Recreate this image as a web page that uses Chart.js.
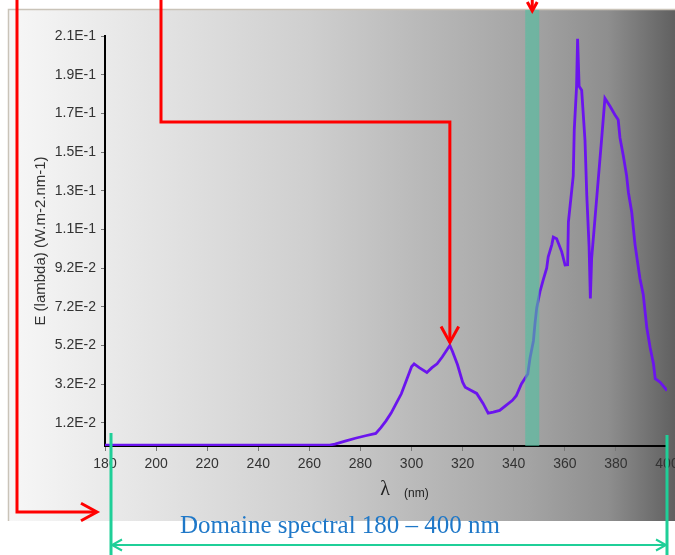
<!DOCTYPE html>
<html>
<head>
<meta charset="utf-8">
<script src="https://cdn.jsdelivr.net/npm/chart.js@4.4.0/dist/chart.umd.min.js"></script>
<style>
  html, body { margin: 0; padding: 0; background: #fff; }
  #spectre { display: block; }
</style>
</head>
<body>
<canvas id="spectre" width="675" height="555"></canvas>
<script>
// Spectre E(lambda), 180 - 400 nm
const wavelengths = [
  180, 200, 220, 240, 260, 268, 270, 274, 278, 282, 286, 288, 290, 292, 294, 296, 298,
  300, 301, 303, 306, 308, 310, 312, 314, 315, 316, 318, 320, 321, 323, 325.5, 328, 330,
  332, 334.5, 337, 339.5, 341, 343, 345.5, 346.4, 347.7, 348.3, 349, 350.3, 351.6, 352.9,
  353.5, 354.9, 355.5, 356.8, 358.8, 360.1, 361.1, 361.4, 363.3, 363.7, 364.6, 365, 365.6,
  366.6, 367.9, 368.6, 369.5, 370, 370.5, 371.8, 373.1, 374.4, 375.7, 377.7, 379.6, 380.9,
  381.6, 382.9, 384.2, 384.9, 386.2, 387.5, 389.4, 390.7, 392.1, 393.4, 394.7, 395.4, 397.3, 400
];
const irradiance = [
  0.0004, 0.0004, 0.0004, 0.0004, 0.0004, 0.0005, 0.001, 0.0025, 0.004, 0.0053, 0.0065, 0.0095,
  0.013, 0.017, 0.022, 0.027, 0.034,
  0.041, 0.0425, 0.0405, 0.038, 0.0405, 0.0425, 0.046, 0.05, 0.052, 0.049, 0.042, 0.033, 0.0304,
  0.029, 0.0272, 0.022, 0.017,
  0.0175, 0.0184, 0.021, 0.0236, 0.026, 0.0321, 0.0372, 0.0457, 0.0543, 0.063, 0.0714, 0.0799,
  0.0861, 0.0919,
  0.0978, 0.104, 0.108, 0.1072, 0.1004, 0.0936, 0.0937, 0.1158, 0.1397, 0.1636, 0.1858, 0.2106,
  0.186,
  0.184, 0.158, 0.1296, 0.103, 0.0763, 0.097, 0.1175, 0.138, 0.1585, 0.1798, 0.1757, 0.1713,
  0.1687,
  0.1593, 0.1501, 0.1397, 0.1311, 0.1209, 0.104, 0.0867, 0.0784, 0.0611, 0.0509, 0.0425, 0.0348,
  0.033, 0.0287
];

const xTickValues = [180, 200, 220, 240, 260, 280, 300, 320, 340, 360, 380, 400];
const yTickValues = [0.012, 0.032, 0.052, 0.072, 0.092, 0.112, 0.132, 0.152, 0.172, 0.192, 0.212];
const yTickLabels = ["1.2E-2", "3.2E-2", "5.2E-2", "7.2E-2", "9.2E-2", "1.1E-1", "1.3E-1",
                     "1.5E-1", "1.7E-1", "1.9E-1", "2.1E-1"];

const bandRange = [344.5, 350];   // bande verte
const domainRange = [180, 400];   // domaine spectral
const peakMarker = 315;           // fleche rouge
const domainLabel = "Domaine spectral 180 \u2013 400 nm";

Chart.defaults.font.family = "'Liberation Sans', Arial, sans-serif";

function arrowHead(ctx, x, y, dir, size) {
  // open chevron, dir: 'right' | 'left' | 'down'
  ctx.beginPath();
  if (dir === "right") {
    ctx.moveTo(x - size, y - size * 0.55); ctx.lineTo(x, y); ctx.lineTo(x - size, y + size * 0.55);
  } else if (dir === "left") {
    ctx.moveTo(x + size, y - size * 0.55); ctx.lineTo(x, y); ctx.lineTo(x + size, y + size * 0.55);
  } else {
    ctx.moveTo(x - size * 0.55, y - size); ctx.lineTo(x, y); ctx.lineTo(x + size * 0.55, y - size);
  }
  ctx.stroke();
}

const backdrop = {
  id: "backdrop",
  beforeDraw(chart) {
    const ctx = chart.ctx;
    ctx.save();
    ctx.fillStyle = "#fff";
    ctx.fillRect(0, 0, chart.width, chart.height);
    const g = ctx.createLinearGradient(8, 0, chart.width, 0);
    g.addColorStop(0, "#f7f7f7");
    g.addColorStop(0.45, "#cfcfcf");
    g.addColorStop(0.78, "#a4a4a4");
    g.addColorStop(0.9, "#8e8e8e");
    g.addColorStop(1, "#606060");
    ctx.fillStyle = g;
    ctx.fillRect(8, 9, chart.width - 8, 512);
    ctx.strokeStyle = "#c9c3b8";
    ctx.lineWidth = 1.5;
    ctx.beginPath();
    ctx.moveTo(8.5, 521); ctx.lineTo(8.5, 9.5); ctx.lineTo(chart.width, 9.5);
    ctx.stroke();
    ctx.restore();
  },
  afterDatasetsDraw(chart) {
    const ctx = chart.ctx, x = chart.scales.x, area = chart.chartArea;
    const x0 = x.getPixelForValue(bandRange[0]), x1 = x.getPixelForValue(bandRange[1]);
    ctx.save();
    ctx.fillStyle = "rgba(80, 190, 160, 0.62)";
    ctx.fillRect(x0, 10, x1 - x0, area.bottom - 10);
    ctx.restore();
  },
  afterDraw(chart) {
    const ctx = chart.ctx, x = chart.scales.x, y = chart.scales.y, area = chart.chartArea;
    ctx.save();

    // titre de l'axe x
    ctx.fillStyle = "#222";
    ctx.textBaseline = "middle";
    ctx.textAlign = "center";
    ctx.font = "20px 'Liberation Serif', 'Times New Roman', serif";
    ctx.fillText("\u03bb", 385, 490);
    ctx.textAlign = "left";
    ctx.font = "12px 'Liberation Sans', Arial, sans-serif";
    ctx.fillText("(nm)", 404, 494);

    // fleches rouges
    ctx.strokeStyle = "#ff0000";
    ctx.lineWidth = 3;
    ctx.lineJoin = "miter";
    ctx.beginPath();
    ctx.moveTo(17, 0); ctx.lineTo(17, 512); ctx.lineTo(96, 512);
    ctx.stroke();
    arrowHead(ctx, 97, 512, "right", 16);

    const px = x.getPixelForValue(peakMarker);
    const py = y.getPixelForValue(0.052) - 3;
    ctx.beginPath();
    ctx.moveTo(161, 0); ctx.lineTo(161, 122); ctx.lineTo(px, 122); ctx.lineTo(px, py);
    ctx.stroke();
    arrowHead(ctx, px, py, "down", 16);

    const bx = x.getPixelForValue((bandRange[0] + bandRange[1]) / 2);
    ctx.beginPath();
    ctx.moveTo(bx, 0); ctx.lineTo(bx, 10);
    ctx.stroke();
    arrowHead(ctx, bx, 11, "down", 9);

    // domaine spectral
    const d0 = x.getPixelForValue(domainRange[0]) + 6, d1 = x.getPixelForValue(domainRange[1]);
    ctx.strokeStyle = "#1fcf98";
    ctx.lineWidth = 3;
    ctx.beginPath();
    ctx.moveTo(d0, area.bottom - 13); ctx.lineTo(d0, chart.height);
    ctx.moveTo(d1, area.bottom - 11); ctx.lineTo(d1, chart.height);
    ctx.stroke();
    ctx.lineWidth = 2;
    ctx.beginPath();
    ctx.moveTo(d0, 545); ctx.lineTo(d1, 545);
    ctx.stroke();
    arrowHead(ctx, d0 + 1, 545, "left", 10);
    arrowHead(ctx, d1 - 1, 545, "right", 10);

    ctx.fillStyle = "#1f78c8";
    ctx.textAlign = "center";
    ctx.textBaseline = "middle";
    ctx.font = "25px 'Liberation Serif', 'Times New Roman', serif";
    ctx.fillText(domainLabel, 340, 526);
    ctx.restore();
  }
};

new Chart(document.getElementById("spectre"), {
  type: "line",
  data: {
    datasets: [{
      label: "E (lambda)",
      data: wavelengths.map((w, i) => ({ x: w, y: irradiance[i] })),
      borderColor: "#6b14ee",
      borderWidth: 2.8,
      pointRadius: 0,
      tension: 0,
      fill: false
    }]
  },
  options: {
    responsive: false,
    animation: false,
    devicePixelRatio: 1,
    layout: { padding: { left: 0, right: 8, top: 36, bottom: 0 } },
    plugins: {
      legend: { display: false },
      tooltip: { enabled: false }
    },
    scales: {
      x: {
        type: "linear",
        min: 180,
        max: 400,
        afterBuildTicks: s => { s.ticks = xTickValues.map(v => ({ value: v })); },
        afterFit: s => { s.height = 109; s.paddingLeft = 0; s.paddingRight = 0; },
        ticks: {
          color: "#333",
          font: { size: 14 },
          padding: 5,
          maxRotation: 0,
          autoSkip: false
        },
        grid: { drawOnChartArea: false, tickLength: 5, color: "#777" },
        border: { color: "#000", width: 2 }
      },
      y: {
        min: 0,
        max: 0.212,
        afterBuildTicks: s => { s.ticks = yTickValues.map(v => ({ value: v })); },
        afterFit: s => { s.width = 105; },
        ticks: {
          color: "#333",
          font: { size: 14 },
          padding: 5,
          autoSkip: false,
          callback: (v, i) => yTickLabels[i]
        },
        grid: { drawOnChartArea: false, tickLength: 4, color: "#777" },
        border: { color: "#000", width: 2 },
        title: {
          display: true,
          text: "E (lambda) (W.m-2.nm-1)",
          color: "#333",
          font: { size: 15 },
          padding: { top: 32, bottom: 0 }
        }
      }
    }
  },
  plugins: [backdrop]
});
</script>
</body>
</html>
